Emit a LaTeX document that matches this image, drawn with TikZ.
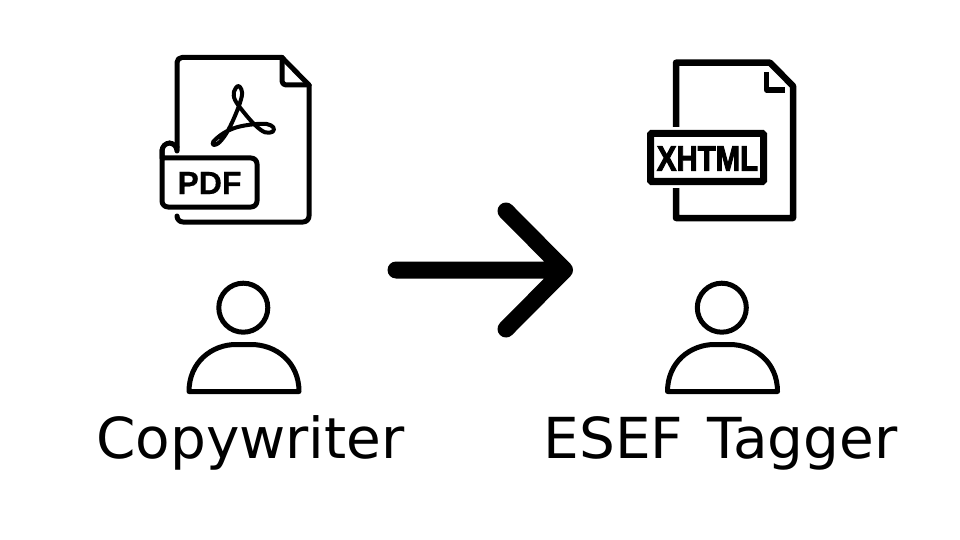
\documentclass[tikz,border=0pt]{standalone}
\usepackage{fontspec}
\setmainfont{DejaVu Sans}
\newfontfamily\iconfont[FakeBold=0.5]{Liberation Sans Bold}
\newfontfamily\tagfont[FakeBold=3]{Liberation Sans Bold}
\usetikzlibrary{shapes, arrows}

\tikzset{
  outline/.style={line width=5pt, line cap=round, line join=round},
  thickoutline/.style={line width=6.5pt, line join=round},
  head/.style={draw, circle, line width=5pt, minimum size=49pt, inner sep=0pt},
  caption/.style={anchor=base, inner sep=0pt, font=\fontsize{56.5}{60}\selectfont},
  bigarrow/.style={line width=17pt, line cap=round, line join=round}
}

\begin{document}
\begin{tikzpicture}[x=1pt, y=-1pt]
\useasboundingbox (0,0) rectangle (960,540);

% pdf file
\draw[outline, rounded corners=5pt] (177,147) -- (177,57.5) -- (282,57.5);
\draw[outline] (282,57.5) -- (309,85);
\draw[outline, rounded corners=4pt] (282,57.5) -- (282,85) -- (309,85);
\draw[outline, rounded corners=6pt] (309,85) -- (309,222) -- (177,222) -- (177,217);
\draw[outline, rounded corners=8pt] (177,147) -- (177,143) -- (162,143) -- (162,158);
\draw[outline, rounded corners=6pt] (162,150) -- (162,207) -- (257,207) -- (257,158) -- (162,158);
\node[inner sep=0pt, font=\iconfont\fontsize{32}{32}\selectfont] (pdflabel) at (209.5,183) {PDF};
\draw[line width=4pt, line join=round] plot[smooth cycle, tension=0.6] coordinates {
  (238,86) (234,91.7) (235,100) (243.3,111.7) (255,125) (265,132.3) (272.7,131.7)
  (273.3,127.3) (266.7,124) (253.3,124.3) (236.7,127.3) (223.3,133.3) (213.3,141.7)
  (214,145) (220,141.7) (228.3,130) (236.7,111.7) (241.7,96.7) (241.3,89.3)};

% xhtml file
\draw[thickoutline] (676,127) -- (676,62.7) -- (770,62.7) -- (793,86) -- (793,218) -- (676,218) -- (676,188);
\draw[line width=5.5pt, line join=round] (766.7,72) -- (766.7,90) -- (785,90);
\draw[line width=7pt, rounded corners=1pt] (650.5,133.5) rectangle (763.5,181.5);
\node[inner sep=0pt, xscale=0.84, font=\tagfont\fontsize{35}{35}\selectfont] (xhtmllabel) at (707.5,158.5) {XHTML};

% left person
\node[head] (headA) at (243.3,307.7) {};
\draw[outline] (189,391.5) .. controls (189,362) and (212,344.5) .. (236,344.5) -- (251,344.5)
  .. controls (276,344.5) and (299,362) .. (299,391.5) -- cycle;
\node[caption] (writer) at (250.5,458) {Copywriter};

% right person
\node[head] (headB) at (721.8,307.7) {};
\draw[outline] (667.5,391.5) .. controls (667.5,362) and (690.5,344.5) .. (714.5,344.5) -- (729.5,344.5)
  .. controls (754.5,344.5) and (777.5,362) .. (777.5,391.5) -- cycle;
\node[caption] (tagger) at (720.5,458) {ESEF\hspace{0.12em} Tagger};

% arrow
\coordinate (start) at (396,270);
\coordinate (tip) at (564.5,270);
\coordinate (armup) at (506,211);
\coordinate (armdown) at (506,329);
\draw[bigarrow] (start) -- (tip) (armup) -- (tip) -- (armdown);
\end{tikzpicture}
\end{document}
